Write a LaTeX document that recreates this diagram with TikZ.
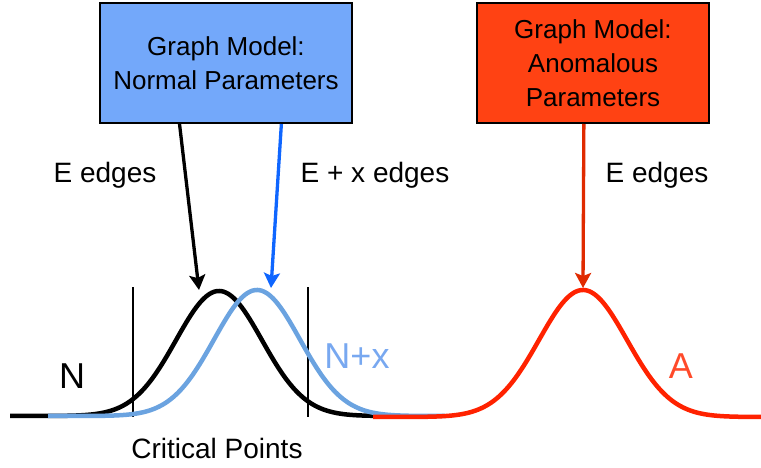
\documentclass[tikz,border=0pt]{standalone}
\usepackage{fontspec}
\setmainfont{Liberation Sans}
\usetikzlibrary{arrows.meta,calc}
\definecolor{boxblue}{HTML}{73A8FA}
\definecolor{boxred}{HTML}{FF4213}
\definecolor{arrblue}{HTML}{0F66FF}
\definecolor{arrred}{HTML}{E02A00}
\definecolor{curvblue}{HTML}{6BA3E0}
\definecolor{labblue}{HTML}{78A8F0}
\definecolor{curvred}{HTML}{FF2200}
\definecolor{labred}{HTML}{FF4A2A}
\tikzset{
  modelbox/.style={draw=black, line width=2pt, align=center, inner sep=0pt,
    font=\fontsize{26}{34}\selectfont},
  edgelabel/.style={anchor=base, inner sep=0pt, font=\fontsize{28}{34}\selectfont},
  distlabel/.style={anchor=base, inner sep=0pt, font=\fontsize{36}{40}\selectfont},
  feed/.style={line width=3.3pt, -{Stealth[length=15pt,width=16pt,inset=3pt]}},
  curve/.style={line width=4.5pt},
  critline/.style={line width=1.5pt, black}
}
\begin{document}
\begin{tikzpicture}[x=1pt,y=-1pt]
\useasboundingbox (0,0) rectangle (761,468);
% boxes
\node[modelbox, fill=boxblue, minimum width=252pt, minimum height=120pt] (nbox) at (226,63) {Graph Model:\\Normal Parameters};
\node[modelbox, fill=boxred, minimum width=232pt, minimum height=120pt] (abox) at (593,63) {Graph Model:\\Anomalous\\Parameters};
% critical lines
\draw[critline] (133,287) -- (133,417);
\draw[critline] (308,287) -- (308,417);
% curves
\draw[curve, black] plot[domain=10:400, samples=200] (\x,{416-125*exp(-0.5*((\x-219)/43)*((\x-219)/43))});
\draw[curve, curvblue] plot[domain=48:445, samples=200] (\x,{416-126*exp(-0.5*((\x-257)/43)*((\x-257)/43))});
\draw[curve, curvred] plot[domain=373:761, samples=200] (\x,{417-127*exp(-0.5*((\x-583)/44)*((\x-583)/44))});
% peak coordinates
\coordinate (npk) at (199,290);
\coordinate (xpk) at (271,288);
\coordinate (apk) at (583,288);
% arrows
\draw[feed, black] ($(nbox.south west)!0.317!(nbox.south east)$) -- (npk);
\draw[feed, arrblue] ($(nbox.south west)!0.718!(nbox.south east)$) -- (xpk);
\draw[feed, arrred] ($(abox.south west)!0.461!(abox.south east)$) -- (apk);
% labels
\node[edgelabel] (l1) at (105,183) {E edges};
\node[edgelabel] (l2) at (375,183) {E + x edges};
\node[edgelabel] (l3) at (657,183) {E edges};
\node[distlabel] (ln) at (72,388) {N};
\node[distlabel, text=labblue] (lnx) at (357,368) {N+x};
\node[distlabel, text=labred] (la) at (681,378) {A};
\node[edgelabel] (lc) at (217,458) {Critical Points};
\end{tikzpicture}
\end{document}
